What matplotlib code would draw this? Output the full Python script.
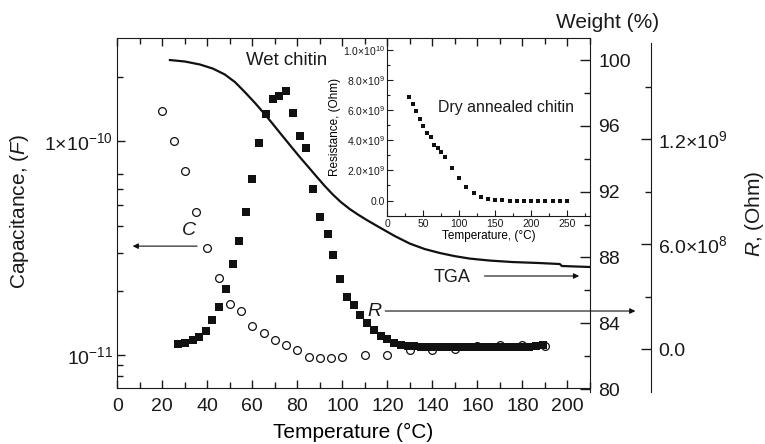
import matplotlib
matplotlib.use('Agg')
import matplotlib.pyplot as plt
from matplotlib.ticker import FixedLocator, FixedFormatter, MultipleLocator, NullFormatter

plt.rcParams['font.family'] = ['Liberation Sans', 'DejaVu Sans']
plt.rcParams['mathtext.fontset'] = 'custom'
plt.rcParams['mathtext.rm'] = 'Liberation Sans'
plt.rcParams['mathtext.it'] = 'Liberation Sans:italic'
plt.rcParams['text.color'] = '#1a1a1a'
plt.rcParams['axes.edgecolor'] = '#1a1a1a'
plt.rcParams['xtick.color'] = '#1a1a1a'
plt.rcParams['ytick.color'] = '#1a1a1a'

# capacitance of wet chitin (open circles, left log axis)
temp_c = [20, 25, 30, 35, 40, 45, 50, 55, 60, 65, 70, 75, 80, 85, 90, 95, 100,
          110, 120, 130, 140, 150, 160, 170, 180, 190]
cap = [1.38e-10, 1.0e-10, 7.24e-11, 4.66e-11, 3.16e-11, 2.29e-11, 1.73e-11, 1.61e-11,
       1.37e-11, 1.27e-11, 1.18e-11, 1.11e-11, 1.055e-11, 9.8e-12, 9.7e-12, 9.7e-12, 9.8e-12,
       1.0e-11, 1.0e-11, 1.055e-11, 1.055e-11, 1.066e-11, 1.10e-11, 1.11e-11, 1.11e-11, 1.10e-11]

# resistance of wet chitin (filled squares, right R axis)
temp_r = [27, 30, 33.5, 36.5, 39.5, 42, 45, 48.5, 51.5, 54, 57, 60, 63, 66, 69, 72, 75,
          78, 81, 84, 87, 90, 93.5, 96, 99, 102, 105, 108, 111, 114, 117, 120, 123,
          126, 129, 132, 135, 138, 141, 144, 147, 150, 153, 156, 159, 162, 165, 168,
          171, 174, 177, 180, 183, 186, 189]
res = [2.9e7, 3.4e7, 5.1e7, 6.9e7, 1.03e8, 1.66e8, 2.40e8, 3.43e8, 4.86e8, 6.18e8, 7.84e8,
       9.73e8, 1.18e9, 1.345e9, 1.43e9, 1.45e9, 1.476e9, 1.35e9, 1.219e9, 1.15e9, 9.16e8,
       7.55e8, 6.58e8, 5.38e8, 4.0e8, 2.98e8, 2.52e8, 1.95e8, 1.49e8, 1.09e8, 7.4e7, 5.7e7,
       3.4e7, 2.4e7, 1.9e7, 1.6e7, 1.3e7, 1.2e7, 1.1e7, 1.0e7, 1.0e7, 1.0e7, 1.0e7, 1.0e7,
       1.0e7, 1.0e7, 1.0e7, 1.0e7, 1.0e7, 1.1e7, 1.1e7, 1.2e7, 1.4e7, 1.8e7, 2.3e7]

# thermogravimetric curve
temp_tga = [23.4, 30.1, 36.7, 42.5, 47.8, 52.3, 56.7, 61.2, 66.0, 70.0, 73.6, 77.6, 81.1,
            84.7, 88.7, 92.2, 95.8, 99.3, 103.3, 106.9, 110.9, 116.6, 123.3, 130.0, 136.6,
            143.3, 149.9, 156.6, 165.5, 175.7, 187.7, 196.6, 197.5, 209.9]
weight = [100.0, 99.91, 99.73, 99.48, 99.12, 98.66, 98.05, 97.39, 96.63, 95.96, 95.35,
          94.68, 94.10, 93.53, 92.89, 92.34, 91.82, 91.37, 90.94, 90.61, 90.27, 89.82,
          89.30, 88.84, 88.51, 88.27, 88.08, 87.93, 87.81, 87.72, 87.66, 87.60, 87.48, 87.42]

# dry annealed chitin (inset)
temp_dry = [30, 35, 40, 45, 50, 55, 60, 65, 70, 75, 80, 90, 100, 110, 120, 130, 140, 150,
            160, 170, 180, 190, 200, 210, 220, 230, 240, 250]
res_dry = [6.88e9, 6.41e9, 5.95e9, 5.42e9, 4.95e9, 4.49e9, 4.25e9, 3.72e9, 3.46e9, 3.22e9,
           2.89e9, 2.16e9, 1.50e9, 0.90e9, 0.50e9, 0.23e9, 0.10e9, 0.03e9, 0.03e9, 0.0,
           0.0, 0.0, 0.0, 0.0, 0.0, 0.0, 0.0, 0.0]

fig = plt.figure(figsize=(7.65, 4.44), dpi=100)

ax = fig.add_axes([0.1533, 0.1261, 0.6179, 0.7883], zorder=1)
ax_w = fig.add_axes([0.1533, 0.1171, 0.6179, 0.7973], zorder=2)
ax_r = fig.add_axes([0.1533, 0.1171, 0.6179, 0.7860], zorder=3)
axin = fig.add_axes([0.5065, 0.5135, 0.2647, 0.4009], zorder=4)

for a in (ax_w, ax_r, ax, axin):
    a.patch.set_visible(False)

# --- weight axis
ax_w.set_xlim(0, 210)
ax_w.set_ylim(79.82, 101.34)
for s in ('left', 'top', 'bottom'):
    ax_w.spines[s].set_visible(False)
ax_w.xaxis.set_visible(False)
ax_w.yaxis.tick_right()
ax_w.yaxis.set_major_locator(FixedLocator([80, 84, 88, 92, 96, 100]))
ax_w.yaxis.set_minor_locator(FixedLocator([82, 86, 90, 94, 98]))
ax_w.tick_params(axis='y', which='major', direction='in', length=7, width=1, pad=6, labelsize=14)
ax_w.tick_params(axis='y', which='minor', direction='in', length=4, width=1)
ax_w.plot(temp_tga, weight, color='#111111', lw=1.6)

# --- R axis
ax_r.set_xlim(0, 210)
ax_r.set_ylim(-2.46e8, 1.751e9)
for s in ('left', 'top', 'bottom'):
    ax_r.spines[s].set_visible(False)
ax_r.spines['right'].set_position(('axes', 1.129))
ax_r.xaxis.set_visible(False)
ax_r.yaxis.tick_right()
ax_r.yaxis.set_major_locator(FixedLocator([0, 6e8, 1.2e9]))
ax_r.yaxis.set_major_formatter(FixedFormatter(['0.0', r'$6.0{\times}10^{8}$', r'$1.2{\times}10^{9}$']))
ax_r.yaxis.set_minor_locator(FixedLocator([3e8, 9e8, 1.5e9]))
ax_r.tick_params(axis='y', which='major', direction='in', length=7, width=1, pad=5, labelsize=14)
ax_r.tick_params(axis='y', which='minor', direction='in', length=4, width=1)
ax_r.plot(temp_r, res, 's', color='#111111', ms=6.2, mew=0)

# --- capacitance axis
ax.set_yscale('log')
ax.set_xlim(0, 210)
ax.set_ylim(7.02e-12, 3.03e-10)
ax.spines['right'].set_visible(False)
ax.xaxis.set_major_locator(MultipleLocator(20))
ax.xaxis.set_minor_locator(MultipleLocator(10))
ax.yaxis.set_major_locator(FixedLocator([1e-11, 1e-10]))
ax.yaxis.set_major_formatter(FixedFormatter([r'$10^{-11}$', r'$1{\times}10^{-10}$']))
ax.yaxis.set_minor_locator(FixedLocator([8e-12, 9e-12, 2e-11, 3e-11, 4e-11, 5e-11,
                                         6e-11, 7e-11, 2e-10]))
ax.yaxis.set_minor_formatter(NullFormatter())
ax.tick_params(axis='x', which='major', direction='in', length=6, width=1, pad=7,
               labelsize=14, top=True)
ax.tick_params(axis='x', which='minor', direction='in', length=4, width=1, top=True)
ax.tick_params(axis='y', which='major', direction='in', length=6, width=1, pad=3,
               labelsize=14, right=False)
ax.tick_params(axis='y', which='minor', direction='in', length=4, width=1, right=False)
ax.plot(temp_c, cap, 'o', ms=5.6, mfc='white', mec='#111111', mew=0.9)
ax.set_xlabel('Temperature (°C)', fontsize=15, labelpad=6)

arrow = dict(arrowstyle='-|>', lw=0.8, color='#111111', mutation_scale=8)
ax.annotate('', xy=(5.6, 3.23e-11), xytext=(36.7, 3.23e-11), arrowprops=arrow)
ax.text(31.8, 3.84e-11, '$C$', fontsize=14, ha='center', va='center')
ax.annotate('', xy=(1.102, 0.22), xytext=(0.561, 0.22), xycoords='axes fraction',
            textcoords='axes fraction', arrowprops=arrow, annotation_clip=False)
ax.text(0.545, 0.22, '$R$', transform=ax.transAxes, fontsize=14, ha='center', va='center')
ax.annotate('', xy=(0.983, 0.32), xytext=(0.771, 0.32), xycoords='axes fraction',
            textcoords='axes fraction', arrowprops=arrow)
ax.text(0.708, 0.317, 'TGA', transform=ax.transAxes, fontsize=13, ha='center', va='center')
ax.text(0.359, 0.937, 'Wet chitin', transform=ax.transAxes, fontsize=13.4,
        ha='center', va='center')

# --- inset
axin.set_xlim(0, 282)
axin.set_ylim(-1.03e9, 1.08e10)
axin.spines['top'].set_visible(False)
axin.spines['right'].set_visible(False)
axin.xaxis.set_major_locator(MultipleLocator(50))
axin.xaxis.set_minor_locator(MultipleLocator(25))
axin.yaxis.set_major_locator(FixedLocator([0, 2e9, 4e9, 6e9, 8e9, 1e10]))
axin.yaxis.set_major_formatter(FixedFormatter(['0.0', r'$2.0{\times}10^{9}$', r'$4.0{\times}10^{9}$',
                                               r'$6.0{\times}10^{9}$', r'$8.0{\times}10^{9}$',
                                               r'$1.0{\times}10^{10}$']))
axin.yaxis.set_minor_locator(MultipleLocator(1e9))
axin.tick_params(which='major', direction='in', length=4, width=0.8, pad=2, labelsize=7.5)
axin.tick_params(which='minor', direction='in', length=2.5, width=0.8)
axin.plot(temp_dry, res_dry, 's', color='#111111', ms=2.6, mew=0)
axin.set_xlabel('Temperature, (°C)', fontsize=8.5, labelpad=1)
axin.set_ylabel('Resistance, (Ohm)', fontsize=8.5, labelpad=1)
axin.text(0.585, 0.612, 'Dry annealed chitin', transform=axin.transAxes, fontsize=11.4,
          ha='center', va='center')

# axis titles
fig.text(20 / 765, 1 - 212 / 444, 'Capacitance, ($F$)', rotation=90, fontsize=15,
         ha='center', va='center')
fig.text(608 / 765, 1 - 22 / 444, 'Weight (%)', fontsize=15, ha='center', va='center')
fig.text(754 / 765, 1 - 214 / 444, '$R$, (Ohm)', rotation=90, fontsize=15,
         ha='center', va='center')

fig.savefig('out.png', dpi=100)
